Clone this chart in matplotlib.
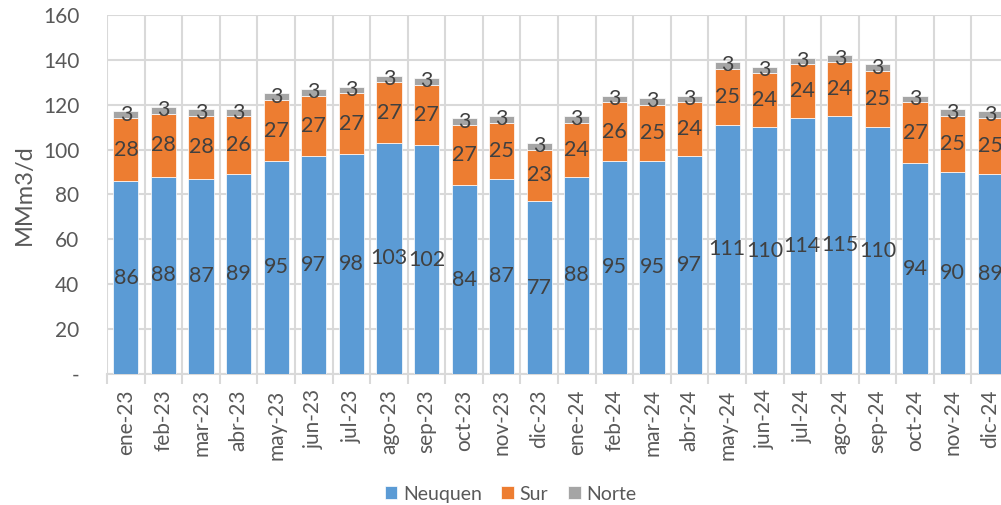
import matplotlib.pyplot as plt
import numpy as np

meses = ["ene-23", "feb-23", "mar-23", "abr-23", "may-23", "jun-23", "jul-23", "ago-23",
         "sep-23", "oct-23", "nov-23", "dic-23", "ene-24", "feb-24", "mar-24", "abr-24",
         "may-24", "jun-24", "jul-24", "ago-24", "sep-24", "oct-24", "nov-24", "dic-24"]
neuquen = [86, 88, 87, 89, 95, 97, 98, 103, 102, 84, 87, 77,
           88, 95, 95, 97, 111, 110, 114, 115, 110, 94, 90, 89]
sur = [28, 28, 28, 26, 27, 27, 27, 27, 27, 27, 25, 23,
       24, 26, 25, 24, 25, 24, 24, 24, 25, 27, 25, 25]
norte = [3] * 24

plt.rcParams["font.family"] = ["Lato", "DejaVu Sans"]

fig = plt.figure(figsize=(10.01, 5.05), dpi=100)
ax = fig.add_axes([0.107, 0.2594, 0.901, 0.711])

x = np.arange(len(meses))
ancho = 0.67
series = [("Neuquen", neuquen, "#5B9BD5"), ("Sur", sur, "#ED7D31"), ("Norte", norte, "#A5A5A5")]
base = np.zeros(len(meses))
for nombre, vals, color in series:
    vals = np.array(vals, dtype=float)
    barras = ax.bar(x, vals, ancho, bottom=base, color=color, label=nombre,
                    edgecolor="white", linewidth=0.5, zorder=3)
    ax.bar_label(barras, labels=[f"{v:.0f}" for v in vals], label_type="center",
                 fontsize=15.5, color="#404040", zorder=4)
    base += vals

ax.set_xlim(-0.5, len(meses) - 0.5)
ax.set_ylim(0, 160)
ax.set_yticks(np.arange(0, 161, 20))
ax.set_yticklabels(["-"] + [str(v) for v in range(20, 161, 20)])
ax.set_xticks(x)
ax.set_xticklabels(meses, rotation=90)
ax.set_xticks(np.arange(-0.5, len(meses), 1), minor=True)

ax.tick_params(axis="y", length=0, labelsize=15, labelcolor="#595959", pad=20)
ax.tick_params(axis="x", which="major", length=0, labelsize=15, labelcolor="#595959", pad=11)
ax.tick_params(axis="x", which="minor", length=7, color="#D9D9D9", width=1.5)

ax.grid(True, axis="y", color="#D9D9D9", linewidth=1.5, zorder=0)
ax.grid(True, axis="x", which="minor", color="#D9D9D9", linewidth=1.5, zorder=0)
for lado in ["top", "right", "left"]:
    ax.spines[lado].set_visible(False)
ax.spines["bottom"].set_color("#D9D9D9")
ax.spines["bottom"].set_linewidth(1.5)

ax.set_ylabel("MMm3/d", fontsize=17, color="#595959", labelpad=6)

fig.legend(loc="lower center", bbox_to_anchor=(0.51, -0.03), ncol=3, frameon=False,
           fontsize=14, handlelength=0.65, handleheight=0.65, handletextpad=0.3,
           columnspacing=1.0, labelcolor="#595959")

fig.savefig("out.png", dpi=100)
